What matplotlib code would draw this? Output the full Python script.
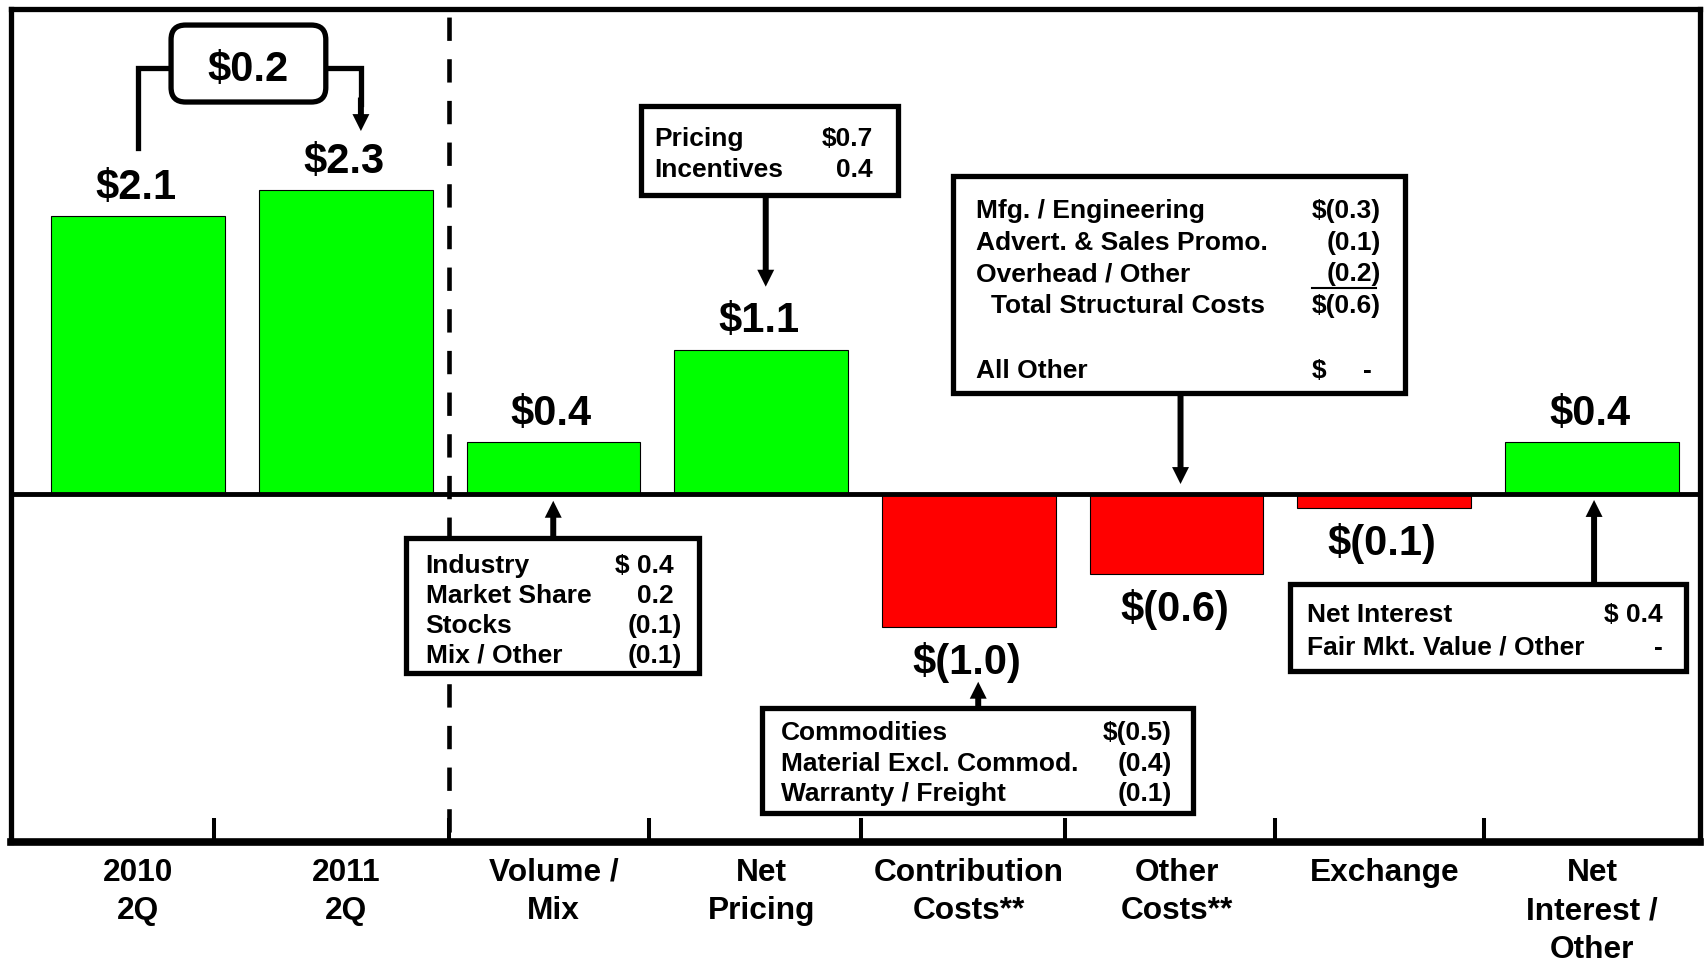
import matplotlib
matplotlib.use('Agg')
import matplotlib.pyplot as plt
from matplotlib.patches import Rectangle, FancyBboxPatch, FancyArrowPatch, ArrowStyle
import matplotlib.transforms as mtransforms

plt.rcParams['font.family'] = ['Liberation Sans', 'DejaVu Sans']
plt.rcParams['font.weight'] = 'bold'
plt.rcParams['text.parse_math'] = False
plt.rcParams['lines.scale_dashes'] = False

# ---------------- data ----------------
categories = ["2010\n2Q", "2011\n2Q", "Volume /\nMix", "Net\nPricing",
              "Contribution\nCosts**", "Other\nCosts**", "Exchange",
              "Net\nInterest /\nOther"]
values = [2.10, 2.30, 0.39, 1.09, -1.01, -0.61, -0.11, 0.39]
value_labels = ["$2.1", "$2.3", "$0.4", "$1.1", "$(1.0)", "$(0.6)", "$(0.1)", "$0.4"]
change_label = "$0.2"

volume_items = ["Industry", "Market Share", "Stocks", "Mix / Other"]
volume_values = ["$ 0.4", "0.2", "(0.1)", "(0.1)"]
pricing_items = ["Pricing", "Incentives"]
pricing_values = ["$0.7", "0.4"]
contrib_items = ["Commodities", "Material Excl. Commod.", "Warranty / Freight"]
contrib_values = ["$(0.5)", "(0.4)", "(0.1)"]
other_items = ["Mfg. / Engineering", "Advert. & Sales Promo.", "Overhead / Other",
               "Total Structural Costs"]
other_values = ["$(0.3)", "(0.1)", "(0.2)", "$(0.6)"]
all_other_label = "All Other"
all_other_value = ["$", "-"]
interest_items = ["Net Interest", "Fair Mkt. Value / Other"]
interest_values = ["$ 0.4", "-"]

GREEN = "#00FF00"
RED = "#FF0000"
BOX_FS = 19

# ---------------- figure ----------------
fig = plt.figure(figsize=(17.05, 9.6), dpi=100)
fig.patch.set_facecolor('white')
ax = fig.add_axes([0.00616, 0.12292, 0.99091, 0.86802])

xs = list(range(len(categories)))
colors = [GREEN if v >= 0 else RED for v in values]
ax.bar(xs, values, width=0.836, color=colors, edgecolor='black', linewidth=0.8, zorder=2)

YMIN, YMAX = -2.640, 3.673
ax.set_xlim(-0.614, 7.52)
ax.set_ylim(YMIN, YMAX)

ax.axhline(0, color='black', lw=3.5, zorder=3)
ax.plot([1.497, 1.497], [YMAX, YMIN], color='black', lw=3.3,
        linestyle=(24.2, (16.8, 13.2)), zorder=3, solid_capstyle='butt')

for s in ['left', 'right', 'top']:
    ax.spines[s].set_linewidth(3.8)
ax.spines['bottom'].set_linewidth(5.5)
ax.set_yticks([])
ax.set_xticks(xs, categories, fontsize=22.8, fontweight='bold', linespacing=1.36)
ax.tick_params(axis='x', which='major', length=0, pad=11.5)
ax.set_xticks([0.366, 1.497, 2.461, 3.482, 4.461, 5.472, 6.482], minor=True)
ax.tick_params(axis='x', which='minor', direction='in', length=17.3, width=2.9)

# value labels
for xi, v, lab in zip(xs, values, value_labels):
    off = 12.5 if v >= 0 else -33.6
    ax.annotate(lab, (xi - 0.01, v), xytext=(0, off), textcoords='offset points',
                ha='center', va='baseline', fontsize=30, fontweight='bold', zorder=7)


def row_text(xp, yp, s, fs, ha='left'):
    tr = mtransforms.offset_copy(ax.transData, fig=fig, y=-0.358 * fs, units='points')
    ax.text(xp, yp, s, fontsize=fs, ha=ha, va='baseline', transform=tr,
            fontweight='bold', zorder=8)


def box(x0, x1, ytop, ybot):
    ax.add_patch(Rectangle((x0, ybot), x1 - x0, ytop - ybot, fc='white', ec='black',
                           lw=3.8, zorder=6, joinstyle='miter'))


def arrow(xp, y_from, y_to):
    ax.add_patch(FancyArrowPatch((xp, y_from), (xp, y_to),
                                 arrowstyle=ArrowStyle.Simple(head_length=12.2, head_width=12.2,
                                                              tail_width=4.3),
                                 mutation_scale=1, lw=0, fc='black', ec='none',
                                 shrinkA=0, shrinkB=0, zorder=5))


# ---- $0.2 change callout ----
ax.add_patch(FancyBboxPatch((0.159, 2.966), 0.745, 0.583,
                            boxstyle='round,pad=0,rounding_size=0.07',
                            mutation_aspect=1.573, fc='white', ec='black', lw=3.8, zorder=6))
row_text(0.531, 3.239, change_label, 30, 'center')
ax.plot([0.0, 0.0, 0.159], [2.617, 3.223, 3.223], color='black', lw=3.8,
        solid_joinstyle='miter', zorder=5)
ax.plot([0.904, 1.073, 1.073], [3.223, 3.223, 2.95], color='black', lw=3.8,
        solid_joinstyle='miter', zorder=5)
arrow(1.073, 3.0, 2.746)

# ---- Volume / Mix ----
box(1.290, 2.702, -0.339, -1.362)
for yy, it, val in zip([-0.529, -0.756, -0.983, -1.211], volume_items, volume_values):
    row_text(1.385, yy, it, BOX_FS)
    row_text(2.617 if val.startswith('(') else 2.577, yy, val, BOX_FS, 'right')
arrow(1.999, -0.339, -0.055)

# ---- Net pricing ----
box(2.420, 3.661, 2.938, 2.261)
for yy, it, val in zip([2.703, 2.471], pricing_items, pricing_values):
    row_text(2.487, yy, it, BOX_FS)
    row_text(3.538, yy, val, BOX_FS, 'right')
arrow(3.022, 2.261, 1.567)

# ---- Contribution costs ----
box(3.002, 5.077, -1.627, -2.423)
for yy, it, val in zip([-1.792, -2.032, -2.259], contrib_items, contrib_values):
    row_text(3.094, yy, it, BOX_FS)
    row_text(4.976, yy, val, BOX_FS, 'right')
arrow(4.045, -1.627, -1.426)

# ---- Other costs ----
box(3.926, 6.099, 2.405, 0.759)
for i, (yy, it, val) in enumerate(zip([2.161, 1.920, 1.680, 1.441], other_items, other_values)):
    row_text(4.108 if i == 3 else 4.034, yy, it, BOX_FS)
    row_text(5.983, yy, val, BOX_FS, 'right')
ax.plot([5.650, 5.958], [1.559, 1.559], color='black', lw=1.5, zorder=8)
row_text(4.034, 0.948, all_other_label, BOX_FS)
row_text(5.650, 0.948, all_other_value[0], BOX_FS)
row_text(5.917, 0.948, all_other_value[1], BOX_FS, 'center')
arrow(5.019, 0.759, 0.072)

# ---- Net interest ----
box(5.546, 7.452, -0.686, -1.342)
row_text(5.626, -0.900, interest_items[0], BOX_FS)
row_text(7.338, -0.900, interest_values[0], BOX_FS, 'right')
row_text(5.626, -1.148, interest_items[1], BOX_FS)
row_text(7.318, -1.148, interest_values[1], BOX_FS, 'center')
arrow(7.010, -0.686, -0.049)

fig.savefig('out.png', dpi=100, facecolor='white')
